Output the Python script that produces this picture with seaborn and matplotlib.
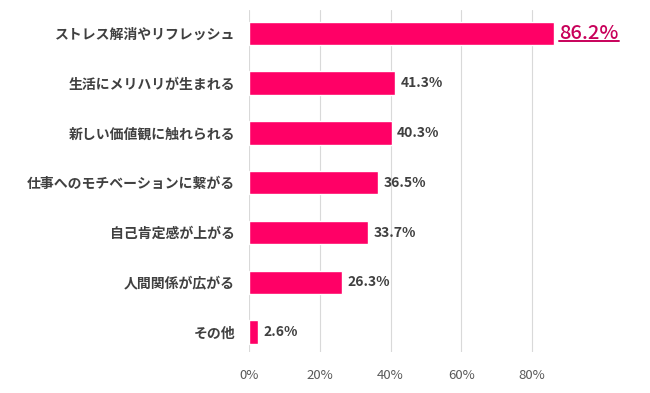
import matplotlib
matplotlib.use("Agg")
import matplotlib.pyplot as plt
import seaborn as sns
import pandas as pd
from matplotlib.lines import Line2D

categories = ["ストレス解消やリフレッシュ", "生活にメリハリが生まれる", "新しい価値観に触れられる",
              "仕事へのモチベーションに繋がる", "自己肯定感が上がる", "人間関係が広がる", "その他"]
values = [86.2, 41.3, 40.3, 36.5, 33.7, 26.3, 2.6]
xticks = [0, 20, 40, 60, 80]
xtick_labels = ["0%", "20%", "40%", "60%", "80%"]

sns.set_theme(style="white")
plt.rcParams['font.family'] = ['Noto Sans CJK JP', 'DejaVu Sans']

df = pd.DataFrame({"cat": categories, "val": values})

fig = plt.figure(figsize=(6.5, 3.93), dpi=100)
ax = fig.add_axes([249/650, 1 - 352/393, (602.75 - 249)/650, (352 - 10)/393])

sns.barplot(data=df, y="cat", x="val", color="#FF0066", saturation=1, width=0.47, ax=ax, orient="h")

ax.set_xlim(0, 100)
ax.set_ylim(6.4, -0.47)
ax.set_xticks(xticks)
ax.set_xticklabels(xtick_labels, color="#595959", fontsize=9.5)
ax.set_xlabel("")
ax.set_ylabel("")
for s in ax.spines.values():
    s.set_visible(False)
ax.grid(axis="x", color="#d9d9d9", linewidth=0.8)
ax.set_axisbelow(True)
ax.tick_params(axis="y", length=0, pad=10)
ax.tick_params(axis="x", length=0, pad=12)
for lbl in ax.get_yticklabels():
    lbl.set_fontweight("bold")
    lbl.set_color("#404040")
    lbl.set_fontsize(10)

texts = []
for i, v in enumerate(values):
    if i == 0:
        t = ax.text(v + 1.5, i, f"{v}%", va="center", ha="left", fontsize=14.5,
                    fontweight="medium", color="#C8005A")
        texts.append(t)
    else:
        ax.text(v + 1.5, i, f"{v}%", va="center", ha="left", fontsize=10,
                fontweight="bold", color="#404040")

fig.canvas.draw()
renderer = fig.canvas.get_renderer()
for t in texts:
    bb = t.get_window_extent(renderer)
    y = bb.y0 + 1.5
    line = Line2D([bb.x0, bb.x1], [y, y], transform=None, color="#C8005A", linewidth=1.4)
    fig.add_artist(line)

fig.savefig("out.png", dpi=100)
